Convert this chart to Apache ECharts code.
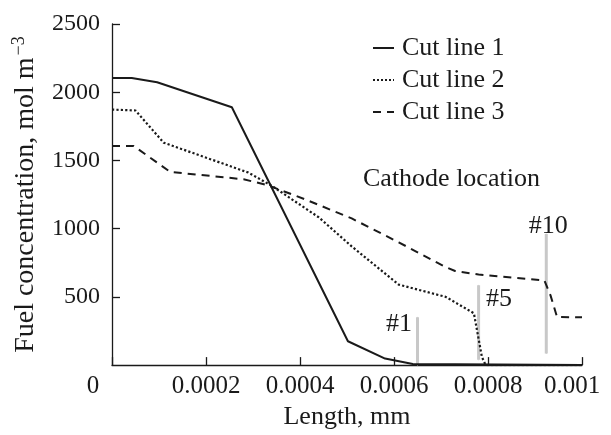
<!DOCTYPE html>
<html>
<head>
<meta charset="utf-8">
<script src="https://cdn.jsdelivr.net/npm/echarts@6/dist/echarts.min.js"></script>
<style>html,body{margin:0;padding:0;background:#fff}#c{width:611px;height:435px}</style>
</head>
<body>
<div id="c"></div>
<script>
const seriesNames = ['Cut line 1', 'Cut line 2', 'Cut line 3'];
const len1 = [0, 0.000042, 0.000096, 0.000255, 0.000502, 0.000581, 0.00064, 0.001];
const conc1 = [2104, 2104, 2073, 1890, 175, 48, 8, 0];
const len2 = [0, 0.00005, 0.00011, 0.00025, 0.00029, 0.00034, 0.00044, 0.00051, 0.00061, 0.00071, 0.00077, 0.000787, 0.000795, 0.001];
const conc2 = [1873, 1866, 1630, 1460, 1411, 1314, 1083, 870, 590, 500, 380, 60, 0, 0];
const len3 = [0, 0.000046, 0.000124, 0.00028, 0.00033, 0.00041, 0.00051, 0.00061, 0.00071, 0.00073, 0.00078, 0.00092, 0.000933, 0.000947, 0.001];
const conc3 = [1606, 1606, 1416, 1362, 1320, 1216, 1075, 900, 718, 690, 664, 620, 511, 352, 350];
const cathodeX = [0.00065, 0.00078, 0.000924];
const cathodeTop = [350, 585, 960];
const cathodeBottom = [0, 40, 85];
const cathodeLabels = ['#1', '#5', '#10'];
const xTicks = [0, 0.0002, 0.0004, 0.0006, 0.0008, 0.001];
const yTicks = [0, 500, 1000, 1500, 2000, 2500];

const FONT = 'Liberation Serif';
const INK = '#1a1a1a';
const zip = (a, b) => a.map((v, i) => [v, b[i]]);

const labelPlacement = [
  {position: 'left', distance: 5, offset: [0, 7]},
  {position: 'right', distance: 7, offset: [0, 14]},
  {position: 'top', distance: 0, offset: [2, 6]}
];

const cathodeSeries = cathodeX.map((x, i) => ({
  type: 'line',
  name: 'cathode' + i,
  symbol: 'circle',
  symbolSize: 1,
  showSymbol: true,
  silent: true,
  itemStyle: {color: '#c8c8c8'},
  lineStyle: {color: '#c8c8c8', width: 3},
  z: 1,
  data: [
    {value: [x, cathodeBottom[i]]},
    {value: [x, cathodeTop[i]], label: Object.assign({
      show: true, formatter: cathodeLabels[i], color: INK,
      fontFamily: FONT, fontSize: 26
    }, labelPlacement[i])}
  ]
}));

const styles = [
  {type: 'solid', width: 2},
  {type: 'dotted', width: 2.2},
  {type: [8, 6], width: 2}
];
const cutData = [zip(len1, conc1), zip(len2, conc2), zip(len3, conc3)];
const cutSeries = seriesNames.map((n, i) => ({
  type: 'line', name: n, symbol: 'none', z: 3,
  lineStyle: Object.assign({color: INK}, styles[i]),
  itemStyle: {color: INK},
  data: cutData[i]
}));

const chart = echarts.init(document.getElementById('c'));
chart.setOption({
  animation: false,
  backgroundColor: '#fff',
  textStyle: {fontFamily: FONT, color: INK},
  grid: {left: 112, right: 29, top: 24, bottom: 67, containLabel: false},
  legend: {
    data: seriesNames,
    orient: 'vertical',
    left: 367, top: 30,
    itemWidth: 21, itemHeight: 12, itemGap: 6,
    itemStyle: {opacity: 0},
    textStyle: {fontFamily: FONT, fontSize: 26, color: INK, padding: [0, 0, 0, 3]}
  },
  graphic: [{
    type: 'text', left: 363, top: 166,
    style: {text: 'Cathode location', fontFamily: FONT, fontSize: 26, fill: INK}
  }],
  xAxis: {
    type: 'value', min: xTicks[0], max: xTicks[xTicks.length - 1], interval: 0.0002,
    name: 'Length, mm', nameLocation: 'middle', nameGap: 26,
    nameTextStyle: {fontFamily: FONT, fontSize: 26, color: INK},
    axisLine: {lineStyle: {color: INK, width: 1.3}},
    axisTick: {inside: true, length: 8, lineStyle: {color: INK, width: 1.3}},
    splitLine: {show: false},
    axisLabel: {
      margin: 9, fontFamily: FONT, fontSize: 25, color: INK,
      formatter: v => v === 0 ? '{z|0}' : (Math.abs(v - 0.001) < 1e-9 ? '{e|0.001}' : String(+v.toFixed(4))),
      rich: {
        z: {fontFamily: FONT, fontSize: 25, color: INK, padding: [0, 38, 0, 0]},
        e: {fontFamily: FONT, fontSize: 25, color: INK, padding: [0, 20, 0, 0]}
      }
    }
  },
  yAxis: {
    type: 'value', min: yTicks[0], max: yTicks[yTicks.length - 1], interval: 500,
    name: 'Fuel concentration, mol m{sup|−3}', nameLocation: 'middle', nameGap: 71,
    nameTextStyle: {fontFamily: FONT, fontSize: 28, color: INK,
      rich: {sup: {fontFamily: FONT, fontSize: 18, color: INK, verticalAlign: 'top', padding: [0, 0, 13, 2]}}},
    axisLine: {show: true, lineStyle: {color: INK, width: 1.3}},
    axisTick: {show: true, inside: true, length: 8, lineStyle: {color: INK, width: 1.3}},
    splitLine: {show: false},
    axisLabel: {margin: 12, fontFamily: FONT, fontSize: 24, color: INK, showMinLabel: false,
      formatter: v => String(v)}
  },
  series: cathodeSeries.concat(cutSeries)
});
</script>
</body>
</html>
